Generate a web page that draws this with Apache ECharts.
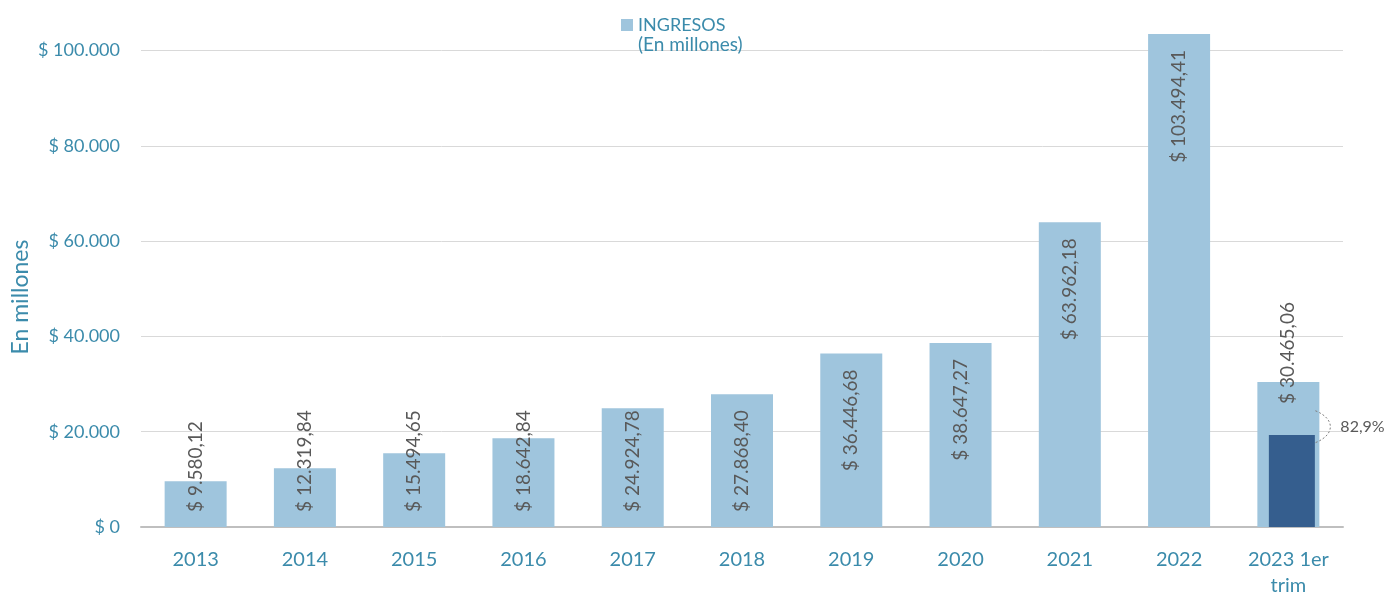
<!DOCTYPE html>
<html>
<head>
<meta charset="utf-8">
<script src="https://cdn.jsdelivr.net/npm/echarts@6/dist/echarts.min.js"></script>
<style>
  html, body { margin: 0; padding: 0; background: #fff; }
  #chart { width: 1386px; height: 596px; }
</style>
</head>
<body>
<div id="chart"></div>
<script>
const categories = ['2013', '2014', '2015', '2016', '2017', '2018', '2019', '2020', '2021', '2022', '2023 1er\ntrim'];
const ingresos = [9580.12, 12319.84, 15494.65, 18642.84, 24924.78, 27868.40, 36446.68, 38647.27, 63962.18, 103494.41, 30465.06];
const trimestreComparado = ['-', '-', '-', '-', '-', '-', '-', '-', '-', '-', 19300];
const variacionTexto = '82,9%';
const yTicks = [0, 20000, 40000, 60000, 80000, 100000];

const TEAL = '#3B8BAB';
const LABEL_GRAY = '#595959';
const FONT = 'Lato';

function fmtThousands(n) {
  return String(Math.round(n)).replace(/\B(?=(\d{3})+(?!\d))/g, '.');
}
function fmtMoney(v) {
  const parts = v.toFixed(2).split('.');
  return '$ ' + parts[0].replace(/\B(?=(\d{3})+(?!\d))/g, '.') + ',' + parts[1];
}

const chart = echarts.init(document.getElementById('chart'));

const baseOption = {
  backgroundColor: '#ffffff',
  animation: false,
  textStyle: { fontFamily: FONT },
  legend: {
    data: ['INGRESOS'],
    left: 621,
    top: 16,
    padding: 0,
    itemWidth: 12,
    itemHeight: 12,
    itemGap: 5,
    icon: 'rect',
    selectedMode: false,
    textStyle: { color: TEAL, fontSize: 18, fontFamily: FONT }
  },
  grid: [
    { left: 141, right: 43, top: 3, bottom: 69, outerBoundsMode: 'none', containLabel: false },
    { left: 144.5, right: 39.5, top: 3, bottom: 69, outerBoundsMode: 'none', containLabel: false }
  ],
  xAxis: [
    {
      type: 'category', gridIndex: 0, data: categories,
      axisTick: { show: false },
      axisLine: { lineStyle: { color: '#BFBFBF', width: 2 } },
      axisLabel: { color: TEAL, fontSize: 20, fontFamily: FONT, margin: 20, lineHeight: 26, interval: 0 }
    },
    {
      type: 'category', gridIndex: 1, data: categories, show: false
    }
  ],
  yAxis: [
    {
      type: 'value', gridIndex: 0, min: 0, max: 110000, interval: 20000,
      axisLine: { show: false }, axisTick: { show: false },
      axisLabel: {
        color: TEAL, fontSize: 18, fontFamily: FONT, margin: 21,
        showMaxLabel: false,
        formatter: function (v) { return yTicks.indexOf(v) >= 0 ? '$ ' + fmtThousands(v) : ''; }
      },
      splitLine: { show: true, showMaxLine: false, lineStyle: { color: '#D9D9D9', width: 1 } }
    },
    {
      type: 'value', gridIndex: 1, min: 0, max: 110000, interval: 20000, show: false,
      splitLine: { show: false }
    }
  ],
  series: [
    {
      name: 'INGRESOS', type: 'bar', xAxisIndex: 0, yAxisIndex: 0,
      data: ingresos, barWidth: 62,
      itemStyle: { color: '#9FC5DD' },
      z: 2
    },
    {
      name: 'Comparado', type: 'bar', xAxisIndex: 1, yAxisIndex: 1,
      data: trimestreComparado, barWidth: 46,
      itemStyle: { color: '#355E8E' },
      z: 3
    }
  ]
};

chart.setOption(baseOption);

// Decide label placement per bar using the library's own scale
const canvas = document.createElement('canvas');
const ctx = canvas.getContext('2d');
ctx.font = '19px ' + FONT;
const basePx = chart.convertToPixel({ xAxisIndex: 0, yAxisIndex: 0 }, [0, 0])[1];

const labeledData = ingresos.map(function (v, i) {
  const text = fmtMoney(v);
  const topPx = chart.convertToPixel({ xAxisIndex: 0, yAxisIndex: 0 }, [i, v])[1];
  const len = ctx.measureText(text).width;
  let label;
  if (i === ingresos.length - 1) {
    label = { position: ['50%', 22], align: 'left', verticalAlign: 'middle' };
  } else if (topPx + 16 + len > basePx - 15) {
    label = { position: 'insideBottom', distance: 15, align: 'left', verticalAlign: 'middle' };
  } else {
    label = { position: 'insideTop', distance: 16, align: 'right', verticalAlign: 'middle' };
  }
  return { value: v, label: label };
});

const lastIdx = ingresos.length - 1;
const cx = chart.convertToPixel({ xAxisIndex: 0, yAxisIndex: 0 }, [lastIdx, 0])[0];
const yTop = chart.convertToPixel({ xAxisIndex: 0, yAxisIndex: 0 }, [lastIdx, 24400])[1];
const yBot = chart.convertToPixel({ xAxisIndex: 0, yAxisIndex: 0 }, [lastIdx, 17700])[1];
const x0 = cx + 27;

chart.setOption({
  series: [
    {
      data: labeledData,
      label: {
        show: true, rotate: 90, color: LABEL_GRAY, fontSize: 19, fontFamily: FONT,
        formatter: function (p) { return fmtMoney(p.value); }
      }
    },
    {}
  ],
  graphic: [
    {
      type: 'text',
      left: 638, top: 35,
      style: { text: '(En millones)', fill: TEAL, fontSize: 19, fontFamily: FONT },
      z: 10
    },
    {
      type: 'text',
      x: 21, y: 297, rotation: Math.PI / 2,
      style: {
        text: 'En millones', fill: TEAL, fontSize: 23, fontFamily: FONT,
        align: 'center', verticalAlign: 'middle'
      },
      z: 10
    },
    {
      type: 'bezierCurve',
      shape: {
        x1: x0, y1: yTop,
        cpx1: x0 + 20, cpy1: yTop + 8,
        cpx2: x0 + 20, cpy2: yBot - 8,
        x2: x0, y2: yBot
      },
      style: { stroke: '#7F7F7F', lineWidth: 1, lineDash: [2, 2], fill: null },
      z: 10
    },
    {
      type: 'text',
      x: x0 + 25, y: (yTop + yBot) / 2,
      style: {
        text: variacionTexto, fill: LABEL_GRAY, fontSize: 16, fontFamily: FONT,
        align: 'left', verticalAlign: 'middle'
      },
      z: 10
    }
  ]
});
</script>
</body>
</html>
